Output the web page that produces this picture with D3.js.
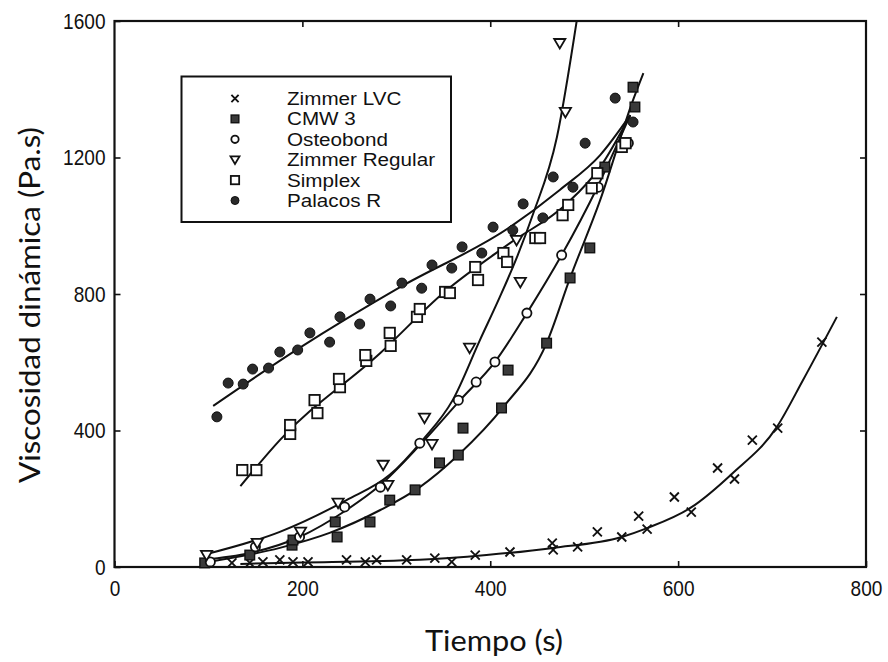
<!DOCTYPE html>
<html>
<head>
<meta charset="utf-8">
<script src="https://cdn.jsdelivr.net/npm/d3@7"></script>
<style>
  html, body { margin: 0; padding: 0; background: #fff; }
  svg { display: block; }
</style>
</head>
<body>
<svg id="chart" width="888" height="662"></svg>
<script>
// ---------------- DATA ----------------
const seriesNames = ["Zimmer LVC", "CMW 3", "Osteobond", "Zimmer Regular", "Simplex", "Palacos R"];
const xTicks = [0, 200, 400, 600, 800];
const yTicks = [0, 400, 800, 1200, 1600];
const xTitle = "Tiempo (s)";
const yTitle = "Viscosidad dinámica (Pa.s)";

// measured points [time (s), viscosity (Pa.s)]
const lvcPoints = [[125,12],[144,12],[158,15],[176,21],[190,15],[206,15],[247,21],[267,15],[279,21],[311,21],[341,26],[359,15],[384,35],[421,44],[466,70],[467,50],[493,59],[514,103],[540,88],[558,149],[567,111],[596,205],[614,161],[642,290],[660,258],[679,372],[706,407],[753,659]];
const cmwPoints = [[96,12],[144,35],[189,64],[190,79],[237,88],[235,132],[272,132],[293,196],[320,226],[346,305],[366,328],[371,407],[412,466],[419,577],[460,656],[485,847],[506,935],[522,1172],[552,1406],[554,1348]];
const osteoPoints = [[102,15],[150,59],[197,88],[245,176],[283,234],[325,363],[366,489],[385,542],[405,601],[439,744],[476,914],[515,1113],[547,1242]];
const zrPoints = [[98,35],[152,70],[198,103],[238,188],[286,299],[291,240],[330,437],[338,360],[378,642],[428,958],[432,835],[480,1333],[474,1535]];
const simplexPoints = [[136,284],[151,284],[187,390],[187,416],[216,451],[213,489],[240,527],[239,551],[268,604],[267,621],[294,648],[293,686],[322,733],[325,756],[352,806],[357,803],[384,879],[387,841],[414,920],[418,894],[448,964],[453,964],[477,1031],[483,1061],[508,1110],[514,1154],[540,1231],[544,1242]];
const palacosPoints = [[109,440],[121,539],[137,536],[147,580],[164,583],[176,630],[195,636],[208,686],[229,659],[240,733],[261,712],[272,785],[294,765],[306,832],[327,817],[338,885],[359,876],[370,938],[391,920],[403,996],[424,987],[435,1064],[456,1023],[467,1143],[488,1113],[501,1242],[533,1374],[552,1304]];

// fitted curves [time, viscosity]
const lvcFit = [[134,9],[176,12],[325,21],[396,35],[467,56],[540,88],[567,114],[613,173],[658,275],[705,410],[733,548],[769,733]];
const cmwFit = [[94,12],[176,56],[229,100],[283,167],[325,234],[366,328],[414,469],[460,656],[485,847],[517,1075],[552,1368],[563,1447]];
const osteoFit = [[94,21],[144,41],[197,88],[247,167],[283,240],[325,357],[368,489],[405,601],[439,744],[476,914],[514,1113],[549,1324]];
const zrFit = [[94,35],[176,103],[247,196],[293,270],[328,372],[360,489],[389,665],[410,790],[428,905],[445,1030],[471,1260],[492,1600]];
const simplexFit = [[134,237],[176,372],[283,627],[350,803],[421,949],[482,1066],[517,1172],[549,1324]];
const palacosFit = [[105,472],[197,642],[304,820],[421,996],[474,1105],[517,1207],[549,1324]];

// ---------------- DRAW ----------------
const svg = d3.select("#chart");
const x = d3.scaleLinear().domain([0, 800]).range([114.5, 866]);
const y = d3.scaleLinear().domain([0, 1600]).range([567, 21]);

svg.append("defs").append("clipPath").attr("id", "plotclip")
  .append("rect").attr("x", x(0)).attr("y", y(1600))
  .attr("width", x(800) - x(0)).attr("height", y(0) - y(1600));

const tickFont = "'Liberation Sans', Arial, sans-serif";
const fmt = d3.format("d");

// bottom axis
const gx = svg.append("g").attr("transform", `translate(0,${y(0)})`)
  .call(d3.axisBottom(x).tickValues(xTicks).tickFormat(fmt).tickSize(-6).tickPadding(13).tickSizeOuter(0));
// left axis
const gy = svg.append("g").attr("transform", `translate(${x(0)},0)`)
  .call(d3.axisLeft(y).tickValues(yTicks).tickFormat(fmt).tickSize(-6).tickPadding(9).tickSizeOuter(0));
// top & right (ticks only)
const gt = svg.append("g").attr("transform", `translate(0,${y(1600)})`)
  .call(d3.axisTop(x).tickValues(xTicks.slice(1, -1)).tickSize(-6).tickFormat("").tickSizeOuter(0));
const gr = svg.append("g").attr("transform", `translate(${x(800)},0)`)
  .call(d3.axisRight(y).tickValues(yTicks.slice(1, -1)).tickSize(-6).tickFormat("").tickSizeOuter(0));

[gx, gy, gt, gr].forEach(g => {
  g.select(".domain").remove();
  g.selectAll(".tick line").attr("stroke", "#111").attr("stroke-width", 1.6);
  g.selectAll("text").attr("font-family", tickFont).attr("font-size", 22)
    .attr("fill", "#111")
    .attr("textLength", function() { return this.textContent.length * 10.6; })
    .attr("lengthAdjust", "spacingAndGlyphs");
});

// frame
svg.append("rect").attr("x", x(0)).attr("y", y(1600))
  .attr("width", x(800) - x(0)).attr("height", y(0) - y(1600))
  .attr("fill", "none").attr("stroke", "#111").attr("stroke-width", 2.2);

// fitted curves
const line = d3.line().x(d => x(d[0])).y(d => y(d[1])).curve(d3.curveMonotoneX);
const plot = svg.append("g").attr("clip-path", "url(#plotclip)");
[lvcFit, cmwFit, osteoFit, zrFit, simplexFit, palacosFit].forEach(f => {
  plot.append("path").attr("d", line(f)).attr("fill", "none")
    .attr("stroke", "#111").attr("stroke-width", 2);
});

// markers
function drawMarker(g, type, cx, cy, s) {
  const k = s || 1;
  if (type === "x") {
    const a = 4.5 * k;
    g.append("path").attr("d", `M${cx-a},${cy-a}L${cx+a},${cy+a}M${cx-a},${cy+a}L${cx+a},${cy-a}`)
      .attr("stroke", "#111").attr("stroke-width", 1.9).attr("fill", "none");
  } else if (type === "fsq") {
    const a = 4.8 * k;
    g.append("rect").attr("x", cx - a).attr("y", cy - a).attr("width", 2 * a).attr("height", 2 * a)
      .attr("fill", "#3a3a3a").attr("stroke", "#111").attr("stroke-width", 1.4);
  } else if (type === "ocirc") {
    g.append("circle").attr("cx", cx).attr("cy", cy).attr("r", 4.6 * k)
      .attr("fill", "#fff").attr("stroke", "#111").attr("stroke-width", 1.8);
  } else if (type === "otri") {
    const a = 5.6 * k;
    g.append("path").attr("d", `M${cx-a},${cy-a*0.75}L${cx+a},${cy-a*0.75}L${cx},${cy+a*0.95}Z`)
      .attr("fill", "#fff").attr("stroke", "#111").attr("stroke-width", 1.8);
  } else if (type === "osq") {
    const a = 5.2 * k;
    g.append("rect").attr("x", cx - a).attr("y", cy - a).attr("width", 2 * a).attr("height", 2 * a)
      .attr("fill", "#fff").attr("stroke", "#111").attr("stroke-width", 1.8);
  } else if (type === "fcirc") {
    g.append("circle").attr("cx", cx).attr("cy", cy).attr("r", 5 * k)
      .attr("fill", "#2a2a2a").attr("stroke", "#111").attr("stroke-width", 1);
  }
}
const markerTypes = ["x", "fsq", "ocirc", "otri", "osq", "fcirc"];
const pointSets = [lvcPoints, cmwPoints, osteoPoints, zrPoints, simplexPoints, palacosPoints];
const mg = svg.append("g");
pointSets.forEach((pts, i) => {
  pts.forEach(p => drawMarker(mg, markerTypes[i], x(p[0]), y(p[1])));
});

// legend
const lg = svg.append("g");
lg.append("rect").attr("x", 181.5).attr("y", 76.5).attr("width", 269.5).attr("height", 145.5)
  .attr("fill", "#fff").attr("stroke", "#111").attr("stroke-width", 2);
seriesNames.forEach((name, i) => {
  const cy = 98.5 + i * 20.4;
  drawMarker(lg, markerTypes[i], 235, cy, 0.8);
  const t = lg.append("text").attr("x", 287).attr("y", cy + 6.4).text(name)
    .attr("font-family", tickFont).attr("font-size", 17.5).attr("fill", "#111");
  const w = t.node().getComputedTextLength();
  t.attr("textLength", w * 1.18).attr("lengthAdjust", "spacingAndGlyphs");
});

// axis titles
svg.append("text").attr("x", 494).attr("y", 651).attr("text-anchor", "middle")
  .attr("font-family", "Lato, 'Open Sans', sans-serif").attr("font-size", 29)
  .attr("fill", "#111").attr("textLength", 138).attr("lengthAdjust", "spacingAndGlyphs")
  .text(xTitle);
svg.append("text").attr("transform", "translate(40,305) rotate(-90)").attr("text-anchor", "middle")
  .attr("font-family", "Lato, 'Open Sans', sans-serif").attr("font-size", 29)
  .attr("fill", "#111").attr("textLength", 356).attr("lengthAdjust", "spacingAndGlyphs")
  .text(yTitle);
</script>
</body>
</html>
